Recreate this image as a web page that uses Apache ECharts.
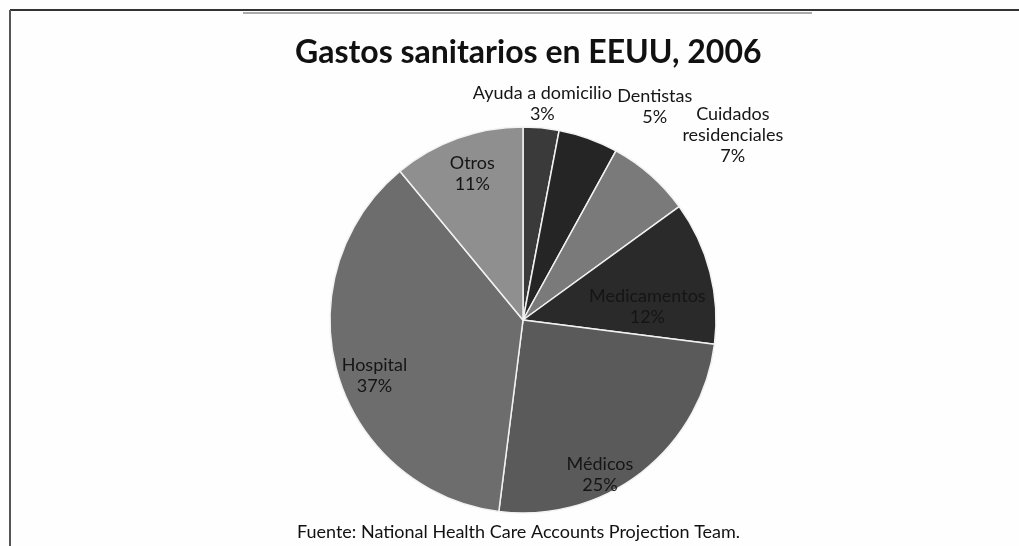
<!DOCTYPE html>
<html>
<head>
<meta charset="utf-8">
<script src="https://cdn.jsdelivr.net/npm/echarts@6/dist/echarts.min.js"></script>
<style>
html,body{margin:0;padding:0;background:#fefefe;}
#chart{width:1019px;height:546px;}
</style>
</head>
<body>
<div id="chart"></div>
<script>
const categories = ['Ayuda a domicilio', 'Dentistas', 'Cuidados\nresidenciales', 'Medicamentos', 'Médicos', 'Hospital', 'Otros'];
const values = [3, 5, 7, 12, 25, 37, 11];
const colors = ['#3a3a3a', '#252525', '#7a7a7a', '#2a2a2a', '#5a5a5a', '#6d6d6d', '#8f8f8f'];
const labelOffsets = [[10, -117], [98, -120], [144, -110], [28, 11], [16, 76], [-53, 28], [-17, -53]];
const titleText = 'Gastos sanitarios en EEUU, 2006';
const sourceText = 'Fuente: National Health Care Accounts Projection Team.';

const FONT = 'Lato, "Open Sans", sans-serif';
const chart = echarts.init(document.getElementById('chart'), null, {renderer: 'canvas'});

const data = categories.map((c, i) => ({
  name: c,
  value: values[i],
  itemStyle: {color: colors[i]},
  label: {offset: labelOffsets[i]}
}));

chart.setOption({
  backgroundColor: '#fefefe',
  animation: false,
  title: [
    {text: titleText, left: 290, top: 32,
     textStyle: {fontFamily: FONT, fontWeight: 'bold', fontSize: 32, color: '#111'}},
    {text: sourceText, left: 292, top: 518,
     textStyle: {fontFamily: FONT, fontWeight: 'normal', fontSize: 18, color: '#111'}}
  ],
  graphic: [
    {type: 'line', shape: {x1: 10, y1: 10, x2: 1019, y2: 10}, style: {stroke: '#333', lineWidth: 2}},
    {type: 'line', shape: {x1: 10, y1: 10, x2: 10, y2: 546}, style: {stroke: '#555', lineWidth: 2}},
    {type: 'line', shape: {x1: 243, y1: 13, x2: 812, y2: 13}, style: {stroke: '#aaa', lineWidth: 2}}
  ],
  series: [{
    type: 'pie',
    center: [523, 320],
    radius: ['0', 193],
    startAngle: 90,
    clockwise: true,
    avoidLabelOverlap: false,
    labelLayout: {hideOverlap: false},
    itemStyle: {borderColor: '#f2f2f2', borderWidth: 1.5},
    label: {
      show: true,
      position: 'inside',
      formatter: p => p.name + '\n' + p.value + '%',
      fontFamily: FONT,
      fontSize: 18,
      lineHeight: 21,
      color: '#151515',
      align: 'center'
    },
    labelLine: {show: false},
    data: data
  }]
});
</script>
</body>
</html>
